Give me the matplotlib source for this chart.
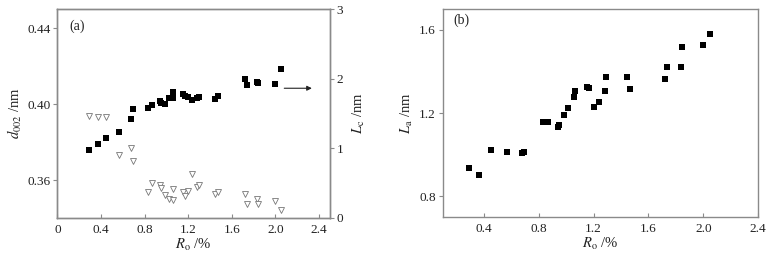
import matplotlib
matplotlib.use('Agg')
import matplotlib.pyplot as plt

plt.rcParams['font.family'] = ['Liberation Serif', 'DejaVu Serif']
plt.rcParams['mathtext.fontset'] = 'stix'
plt.rcParams['font.size'] = 9.5

# --- data
Ro = [0.29, 0.37, 0.45, 0.57, 0.68, 0.69, 0.83, 0.87, 0.94, 0.95, 0.985, 1.02, 1.065, 1.065,
      1.157, 1.17, 1.20, 1.237, 1.283, 1.30, 1.446, 1.47, 1.719, 1.737, 1.83, 1.84, 1.998, 2.047]
d002 = [0.3759, 0.3789, 0.3820, 0.3852, 0.3924, 0.3974, 0.3979, 0.3993, 0.4018, 0.4005, 0.4002,
        0.4030, 0.4035, 0.4063, 0.4056, 0.4042, 0.4039, 0.4021, 0.4035, 0.4039, 0.4025, 0.4044,
        0.4132, 0.4102, 0.4116, 0.4111, 0.4107, 0.4183]
Lc = [1.47, 1.45, 1.45, 0.91, 1.01, 0.82, 0.38, 0.50, 0.48, 0.43, 0.33, 0.28, 0.41, 0.255,
      0.38, 0.32, 0.39, 0.63, 0.44, 0.47, 0.34, 0.38, 0.35, 0.20, 0.27, 0.20, 0.25, 0.11]
Ro_b = [0.29, 0.368, 0.455, 0.57, 0.68, 0.693, 0.832, 0.87, 0.938, 0.95, 0.982, 1.014, 1.06, 1.067,
        1.15, 1.17, 1.20, 1.237, 1.286, 1.293, 1.444, 1.463, 1.718, 1.738, 1.835, 1.842, 1.995, 2.046]
La = [0.939, 0.902, 1.025, 1.012, 1.009, 1.014, 1.159, 1.157, 1.135, 1.144, 1.19, 1.224, 1.278,
      1.305, 1.324, 1.32, 1.232, 1.253, 1.305, 1.374, 1.374, 1.318, 1.363, 1.42, 1.42, 1.516,
      1.528, 1.581]

spine_c = '#8a8a8a'
txt_c = '#222222'
lab_size = 10.5


def style(ax):
    for s in ax.spines.values():
        s.set_color(spine_c)
        s.set_linewidth(1.0)
    ax.tick_params(axis='x', direction='in', length=3, width=0.8, color=spine_c,
                   labelcolor=txt_c, pad=4)
    ax.tick_params(axis='y', direction='out', length=3, width=0.8, color=spine_c,
                   labelcolor=txt_c, pad=2)


fig = plt.figure(figsize=(7.81, 2.61), dpi=100)

# --- (a)
ax1 = fig.add_axes([0.0734, 0.1648, 0.349, 0.7996])
ax2 = ax1.twinx()
ax1.plot(Ro, d002, 's', color='black', ms=4, mew=0)
ax2.plot(Ro, Lc, 'v', mfc='white', mec='#777777', mew=0.6, ms=5)
ax1.set_xlim(0, 2.5)
ax1.set_ylim(0.34, 0.45)
ax2.set_ylim(0, 3)
ax1.set_xticks([0, 0.4, 0.8, 1.2, 1.6, 2.0, 2.4], ['0', '0.4', '0.8', '1.2', '1.6', '2.0', '2.4'])
ax1.set_yticks([0.36, 0.40, 0.44], ['0.36', '0.40', '0.44'])
ax2.set_yticks([0, 1, 2, 3])
style(ax1)
style(ax2)
ax1.set_xlabel(r'$R_{\mathrm{o}}$ /%', color=txt_c, labelpad=1, fontsize=lab_size)
ax1.set_ylabel(r'$d_{002}$ /nm', color=txt_c, labelpad=2, fontsize=lab_size)
ax2.set_ylabel(r'$L_{\mathrm{c}}$ /nm', color=txt_c, labelpad=5, rotation=90, fontsize=lab_size)
ax1.text(0.045, 0.92, '(a)', transform=ax1.transAxes, color=txt_c, va='center', fontsize=10)
ax2.annotate('', xy=(2.36, 1.865), xytext=(2.056, 1.865),
             arrowprops=dict(arrowstyle='-|>', color='#222222', lw=0.8,
                             mutation_scale=7))

# --- (b)
ax3 = fig.add_axes([0.5668, 0.1674, 0.404, 0.798])
ax3.plot(Ro_b, La, 's', color='black', ms=4, mew=0)
ax3.set_xlim(0.1, 2.4)
ax3.set_ylim(0.7, 1.7)
ax3.set_xticks([0.4, 0.8, 1.2, 1.6, 2.0, 2.4], ['0.4', '0.8', '1.2', '1.6', '2.0', '2.4'])
ax3.set_yticks([0.8, 1.2, 1.6], ['0.8', '1.2', '1.6'])
style(ax3)
ax3.set_xlabel(r'$R_{\mathrm{o}}$ /%', color=txt_c, labelpad=1, fontsize=lab_size)
ax3.set_ylabel(r'$L_{\mathrm{a}}$ /nm', color=txt_c, labelpad=3, fontsize=lab_size)
ax3.text(0.035, 0.945, '(b)', transform=ax3.transAxes, color=txt_c, va='center', fontsize=10)

fig.savefig('out.png', dpi=100)
